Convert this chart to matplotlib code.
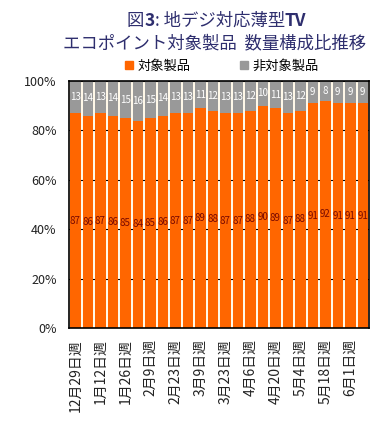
import matplotlib
matplotlib.use("Agg")
import matplotlib.pyplot as plt
import numpy as np

plt.rcParams['font.family'] = ['Noto Sans CJK JP', 'DejaVu Sans']

weeks = ["12月29日週", "1月5日週", "1月12日週", "1月19日週", "1月26日週", "2月2日週",
         "2月9日週", "2月16日週", "2月23日週", "3月2日週", "3月9日週", "3月16日週",
         "3月23日週", "3月30日週", "4月6日週", "4月13日週", "4月20日週", "4月27日週",
         "5月4日週", "5月11日週", "5月18日週", "5月25日週", "6月1日週", "6月8日週"]
target = [87, 86, 87, 86, 85, 84, 85, 86, 87, 87, 89, 88,
          87, 87, 88, 90, 89, 87, 88, 91, 92, 91, 91, 91]
non_target = [13, 14, 13, 14, 15, 16, 15, 14, 13, 13, 11, 12,
              13, 13, 12, 10, 11, 13, 12, 9, 8, 9, 9, 9]
series_names = ["対象製品", "非対象製品"]
yticks = [0, 20, 40, 60, 80, 100]

ORANGE = "#FF6600"
GRAY = "#999999"
NAVY = "#2E2E6E"

fig = plt.figure(figsize=(3.84, 4.26), dpi=100)
ax = fig.add_axes([69/384, 1-328/426, 300/384, 247/426])
ax.set_facecolor("#FFF8E8")

x = np.arange(len(weeks))
ax.bar(x, target, width=0.84, color=ORANGE, zorder=2)
ax.bar(x, non_target, bottom=target, width=0.84, color=GRAY, zorder=2)

for xi, t, n in zip(x, target, non_target):
    ax.text(xi, t/2, str(t), ha='center', va='center', fontsize=7, color="#7A0A00", zorder=3)
    ax.text(xi, t + n/2, str(n), ha='center', va='center', fontsize=7, color="white", zorder=3)

ax.set_xlim(-0.5, len(weeks)-0.5)
ax.set_ylim(0, 100)
ax.set_yticks(yticks)
ax.set_yticklabels([f"{v}%" for v in yticks], fontsize=9, color="#222222")
ax.yaxis.grid(True, color="black", linewidth=0.8, zorder=1)
ax.set_axisbelow(True)
ax.tick_params(axis='y', length=0, pad=9)

ax.set_xticks(x[::2])
ax.set_xticklabels(weeks[::2], rotation=90, fontsize=10, color="#222222")
ax.tick_params(axis='x', length=0, pad=8)
for s in ax.spines.values():
    s.set_color("black")
    s.set_linewidth(1.2)

# Title with bold parts
FS = 12.5
t1 = fig.text(127/384, 1-26/426, "図", fontsize=FS, color=NAVY, va='baseline', ha='left')
t2 = ax.annotate("3", xy=(1, 0), xycoords=t1, fontsize=FS, color=NAVY, fontweight='bold',
                 va='bottom', ha='left', annotation_clip=False)
t3 = ax.annotate(": 地デジ対応薄型", xy=(1, 0), xycoords=t2, fontsize=FS, color=NAVY,
                 va='bottom', ha='left', annotation_clip=False)
t4 = ax.annotate("TV", xy=(1, 0), xycoords=t3, fontsize=FS, color=NAVY, fontweight='bold',
                 va='bottom', ha='left', annotation_clip=False)
fig.text(215/384, 1-48/426, "エコポイント対象製品  数量構成比推移", fontsize=FS, color=NAVY,
         va='baseline', ha='center')

# Legend
from matplotlib.patches import Patch
handles = [Patch(color=ORANGE), Patch(color=GRAY)]
fig.legend(handles, series_names, loc='center', bbox_to_anchor=(222/384, 1-66/426), ncol=2,
           frameon=False, fontsize=9.5, handlelength=0.6, handleheight=0.6,
           handletextpad=0.3, columnspacing=3.8)

fig.savefig("out.png", dpi=100, facecolor="white")
